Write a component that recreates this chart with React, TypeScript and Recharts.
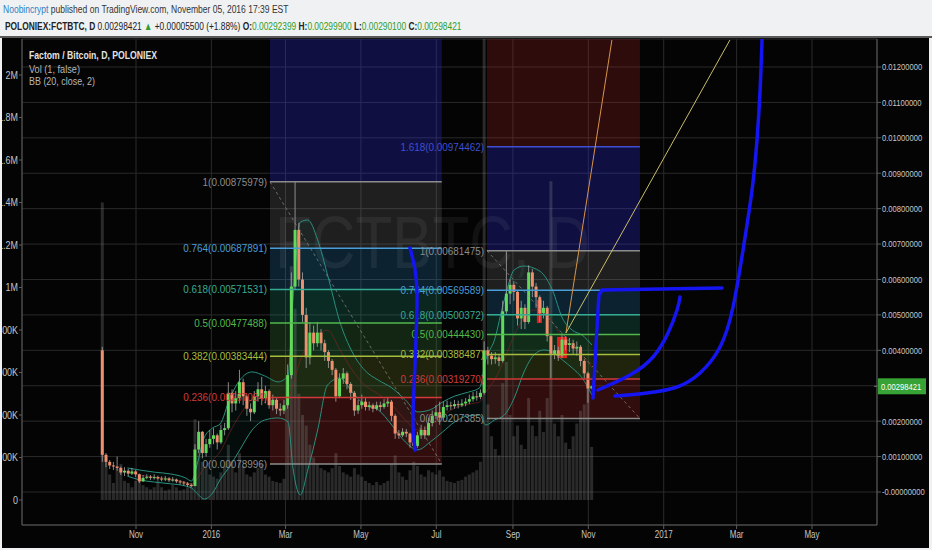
import React from "react";
import {
  ComposedChart,
  Bar,
  Line,
  Area,
  XAxis,
  YAxis,
  CartesianGrid,
  ReferenceArea,
  ReferenceLine,
} from "recharts";

const W = 927;
const H = 510;
const FONT = "'Liberation Sans', Arial, sans-serif";

// x values are days counted from 2015-11-01
const X_DOMAIN = [-92.25, 599.6];
const PRICE_DOMAIN = [-0.000932, 0.01279];
const VOL_DOMAIN = [-117.6, 2169.4]; // thousands

const monthTicks = [0, 61, 121, 182, 243, 305, 366, 427, 486, 547];
const monthLabels = ["Nov", "2016", "Mar", "May", "Jul", "Sep", "Nov", "2017", "Mar", "May"];
const priceTicks = [0, 0.001, 0.002, 0.003, 0.004, 0.005, 0.006, 0.007, 0.008, 0.009, 0.01, 0.011, 0.012];
const volTicks = [0, 200, 400, 600, 800, 1000, 1200, 1400, 1600, 1800, 2000];

// FCT/BTC candles, one every 3rd session from 2015-10-05
const firstDay = -27;
const stepDays = 3;

const opens = [
  0.004, 0.00105, 0.00085, 0.00075, 0.00072, 0.00068, 0.00055, 0.0006, 0.00052, 0.00058,
  0.0005, 0.0003, 0.0004, 0.00043, 0.0004, 0.00042, 0.00038, 0.00036, 0.00038, 0.00033,
  0.00035, 0.0003, 0.00027, 0.00024, 0.0002, 0.00017, 0.0012, 0.0017, 0.0011, 0.00135,
  0.0015, 0.0016, 0.0014, 0.00175, 0.0018, 0.0028, 0.0025, 0.00265, 0.0031, 0.0027,
  0.00235, 0.00225, 0.0027, 0.0029, 0.00265, 0.00285, 0.00245, 0.0026, 0.00235, 0.0023,
  0.00245, 0.0033, 0.0058, 0.0074, 0.006, 0.005, 0.0038, 0.0045, 0.0042, 0.0045,
  0.0042, 0.00395, 0.0037, 0.00345, 0.0027, 0.0032, 0.00335, 0.00305, 0.0028, 0.0023,
  0.00245, 0.00255, 0.0024, 0.00245, 0.00235, 0.00245, 0.0024, 0.0025, 0.00255, 0.00215,
  0.00165, 0.0016, 0.0017, 0.00165, 0.0014, 0.0013, 0.0016, 0.00175, 0.0016, 0.00195,
  0.00215, 0.00225, 0.0021, 0.0024, 0.00245, 0.00242, 0.00248, 0.00245, 0.0025, 0.00255,
  0.00262, 0.0027, 0.00268, 0.0028, 0.004, 0.00385, 0.00375, 0.0038, 0.0037, 0.0051,
  0.0056, 0.00585, 0.00565, 0.0049, 0.0052, 0.0048, 0.0062, 0.0058, 0.0055, 0.00505,
  0.0052, 0.0044, 0.0039, 0.004, 0.00385, 0.0043, 0.00415, 0.0042, 0.00405, 0.0041,
  0.0037, 0.00335, 0.00292399,
];
const highs = [
  0.0041, 0.0011, 0.0009, 0.00085, 0.001, 0.00072, 0.0007, 0.00065, 0.00068, 0.00062,
  0.00052, 0.00048, 0.0005, 0.00048, 0.0005, 0.00046, 0.00044, 0.00045, 0.00042, 0.00042,
  0.00038, 0.00034, 0.00031, 0.00028, 0.00024, 0.00135, 0.002, 0.00172, 0.0015, 0.00175,
  0.0018, 0.00165, 0.0019, 0.00195, 0.0031, 0.0029, 0.00285, 0.00345, 0.0032, 0.00275,
  0.0025, 0.00285, 0.0031, 0.00325, 0.003, 0.0029, 0.00275, 0.00265, 0.0025, 0.0026,
  0.0036, 0.0062, 0.00876, 0.0076, 0.0062, 0.0052, 0.0048, 0.0047, 0.0048, 0.0046,
  0.0043, 0.004, 0.00375, 0.0035, 0.00335, 0.0035, 0.0034, 0.0031, 0.00285, 0.0026,
  0.00275, 0.00265, 0.00255, 0.0025, 0.00255, 0.00255, 0.00262, 0.00268, 0.0026, 0.0022,
  0.00175, 0.0018, 0.00178, 0.00168, 0.0015, 0.0017, 0.0019, 0.00185, 0.0021, 0.0023,
  0.00245, 0.00255, 0.00255, 0.00258, 0.00255, 0.0026, 0.00258, 0.00262, 0.00265, 0.00275,
  0.00282, 0.00285, 0.0029, 0.00425, 0.0041, 0.00395, 0.00395, 0.0039, 0.0054, 0.00681,
  0.006, 0.00595, 0.0057, 0.0054, 0.0053, 0.0064, 0.0063, 0.0059, 0.00555, 0.0054,
  0.00525, 0.00445, 0.00415, 0.0041, 0.00448, 0.0044, 0.00435, 0.0043, 0.00425, 0.00415,
  0.00375, 0.0034, 0.002999,
];
const lows = [
  0.00085, 0.0007, 0.00065, 0.00062, 0.0006, 0.00048, 0.00045, 0.00045, 0.00048, 0.00042,
  0.00025, 0.00028, 0.00036, 0.00034, 0.00035, 0.00032, 0.0003, 0.00031, 0.00028, 0.00029,
  0.00025, 0.00021, 0.00018, 0.00015, 0.00013, 0.00016, 0.0011, 0.00095, 0.001, 0.00125,
  0.00135, 0.0012, 0.00135, 0.0016, 0.00175, 0.00225, 0.0023, 0.0025, 0.00245, 0.00215,
  0.002, 0.0022, 0.00255, 0.00245, 0.0025, 0.00235, 0.0023, 0.0022, 0.00215, 0.0022,
  0.00235, 0.0032, 0.0057, 0.0058, 0.0048, 0.0035, 0.0036, 0.004, 0.0041, 0.004,
  0.0037, 0.0035, 0.0033, 0.00255, 0.00265, 0.00305, 0.0029, 0.0026, 0.00215, 0.0022,
  0.00235, 0.0023, 0.0023, 0.00225, 0.0023, 0.00228, 0.00235, 0.0024, 0.002, 0.0015,
  0.0015, 0.00155, 0.00155, 0.00125, 0.0012, 0.00125, 0.0015, 0.0015, 0.0016, 0.00185,
  0.00205, 0.0019, 0.00205, 0.0023, 0.00232, 0.00235, 0.00236, 0.0024, 0.00242, 0.00248,
  0.00255, 0.00258, 0.00262, 0.00275, 0.0036, 0.0036, 0.00362, 0.00355, 0.00365, 0.005,
  0.0053, 0.0054, 0.0047, 0.0046, 0.0046, 0.00475, 0.0055, 0.0052, 0.0048, 0.0049,
  0.00425, 0.0032, 0.00375, 0.0037, 0.00378, 0.004, 0.00395, 0.0039, 0.00385, 0.00355,
  0.0032, 0.00252, 0.002901,
];
const closes = [
  0.00105, 0.00085, 0.00075, 0.00072, 0.00068, 0.00055, 0.0006, 0.00052, 0.00058, 0.0005,
  0.0003, 0.0004, 0.00043, 0.0004, 0.00042, 0.00038, 0.00036, 0.00038, 0.00033, 0.00035,
  0.0003, 0.00027, 0.00024, 0.0002, 0.00017, 0.0012, 0.0017, 0.0011, 0.00135, 0.0015,
  0.0016, 0.0014, 0.00175, 0.0018, 0.0028, 0.0025, 0.00265, 0.0031, 0.0027, 0.00235,
  0.00225, 0.0027, 0.0029, 0.00265, 0.00285, 0.00245, 0.0026, 0.00235, 0.0023, 0.00245,
  0.0033, 0.0058, 0.0074, 0.006, 0.005, 0.0038, 0.0045, 0.0042, 0.0045, 0.0042,
  0.00395, 0.0037, 0.00345, 0.0027, 0.0032, 0.00335, 0.00305, 0.0028, 0.0023, 0.00245,
  0.00255, 0.0024, 0.00245, 0.00235, 0.00245, 0.0024, 0.0025, 0.00255, 0.00215, 0.00165,
  0.0016, 0.0017, 0.00165, 0.0014, 0.0013, 0.0016, 0.00175, 0.0016, 0.00195, 0.00215,
  0.00225, 0.0021, 0.0024, 0.00245, 0.00242, 0.00248, 0.00245, 0.0025, 0.00255, 0.00262,
  0.0027, 0.00268, 0.0028, 0.004, 0.00385, 0.00375, 0.0038, 0.0037, 0.0051, 0.0056,
  0.00585, 0.00565, 0.0049, 0.0052, 0.0048, 0.0062, 0.0058, 0.0055, 0.00505, 0.0052,
  0.0044, 0.0039, 0.004, 0.00385, 0.0043, 0.00415, 0.0042, 0.00405, 0.0041, 0.0037,
  0.00335, 0.00292399, 0.00298421,
];
// volume in thousands
const volumes = [
  1400, 180, 120, 80, 150, 170, 90, 80, 60, 90,
  110, 70, 60, 50, 60, 90, 60, 45, 50, 70,
  60, 45, 50, 60, 80, 380, 300, 180, 150, 120,
  110, 100, 130, 160, 260, 180, 130, 220, 160, 120,
  110, 130, 150, 170, 120, 110, 90, 85, 80, 100,
  500, 1100, 900, 500, 400, 350, 260, 200, 170, 150,
  140, 130, 150, 220, 160, 130, 120, 110, 150, 120,
  110, 90, 80, 70, 85, 70, 80, 90, 170, 210,
  130, 110, 95, 140, 180, 160, 120, 110, 140, 130,
  120, 140, 110, 90, 85, 80, 90, 95, 110, 120,
  130, 140, 180, 2400, 450, 300, 240, 210, 550, 650,
  400, 300, 350, 260, 240, 480, 350, 300, 420, 320,
  480, 1500, 360, 300, 400, 270, 240, 300, 360, 420,
  450, 540, 250,
];

// Bollinger Bands (20, close, 2)
const bbDays = [
  -7, 3, 15, 28, 40, 45, 50, 55, 62, 68, 76, 84, 94, 104, 115, 123, 127, 133, 139, 147,
  155, 165, 175, 185, 196, 207, 218, 228, 238, 248, 258, 269, 278, 283, 290, 298, 306, 314, 322, 330,
  337, 345, 353, 361, 369,
];
const bbUpper = [
  0.00068, 0.00062, 0.00056, 0.00051, 0.0004, 0.00031, 0.00085, 0.00152, 0.00181, 0.00192,
  0.00265, 0.00316, 0.00339, 0.00328, 0.00311, 0.00328, 0.00542, 0.00762, 0.00768, 0.00712,
  0.00613, 0.0048, 0.00395, 0.00344, 0.00316, 0.00294, 0.0026, 0.00226, 0.00232, 0.00254,
  0.00271, 0.00282, 0.00294, 0.00373, 0.00429, 0.00542, 0.00627, 0.00638, 0.00632, 0.00613,
  0.0057, 0.00491, 0.00457, 0.00443, 0.00415,
];
const bbBasis = [
  0.00056, 0.00048, 0.00042, 0.00037, 0.00028, 0.00023, 0.0004, 0.00068, 0.0009, 0.00113,
  0.00169, 0.00217, 0.0026, 0.00265, 0.0026, 0.00265, 0.00302, 0.00373, 0.00415, 0.00443,
  0.00457, 0.00401, 0.00344, 0.00302, 0.00277, 0.00246, 0.00203, 0.00175, 0.00186, 0.00215,
  0.00237, 0.00248, 0.00254, 0.00282, 0.00316, 0.00373, 0.00443, 0.00491, 0.00514, 0.00508,
  0.0048, 0.00435, 0.00407, 0.00387, 0.0035,
];
const bbLower = [
  0.00045, 0.00034, 0.00028, 0.00023, 0.00017, 0.00011, -0.00006, -0.0002, -0.00003, 0.00034,
  0.00073, 0.00119, 0.00175, 0.00203, 0.00209, 0.00198, 0.00068, -0.00008, 0.00062, 0.00175,
  0.00302, 0.00322, 0.00282, 0.00246, 0.00232, 0.00189, 0.00141, 0.00119, 0.00141, 0.00169,
  0.00198, 0.00215, 0.00217, 0.00189, 0.00203, 0.00217, 0.00265, 0.00339, 0.00387, 0.00401,
  0.00395, 0.00373, 0.0035, 0.00322, 0.00274,
];

// Fibonacci retracements
const fibLeftFrom = 108.4;
const fibLeftTo = 247.4;
const fibLeftLevels = ["1.618", "1", "0.764", "0.618", "0.5", "0.382", "0.236", "0"];
const fibLeftPrices = [0.01368514, 0.00875979, 0.00687891, 0.00571531, 0.00477488, 0.00383444, 0.00267084, 0.00078996];

const fibRightFrom = 284.0;
const fibRightTo = 407.8;
const fibRightLevels = ["2.618", "1.618", "1", "0.764", "0.618", "0.5", "0.382", "0.236", "0"];
const fibRightPrices = [0.01448553, 0.00974462, 0.00681475, 0.00569589, 0.00500372, 0.0044443, 0.00388487, 0.0031927, 0.00207385];

// hand drawn marks, [day, price]
const juneStroke = [
  [221.7, 0.006889], [225.8, 0.006268], [227.4, 0.005506], [226.6, 0.004376],
  [225.0, 0.002965], [224.1, 0.001948], [225.8, 0.001186],
];
const cornerStroke = [
  [369.8, 0.002654], [372.2, 0.004151], [374.6, 0.005562], [377.1, 0.005703],
  [424.0, 0.005732], [474.2, 0.00576],
];
const arcStroke = [
  [373.8, 0.00288], [399.7, 0.003303], [418.4, 0.003812], [430.5, 0.004489],
  [437.8, 0.005139], [440.2, 0.005506],
];
const rocketStroke = [
  [387.6, 0.002711], [413.5, 0.002795], [437.8, 0.002965], [456.4, 0.00336],
  [472.6, 0.004094], [483.1, 0.005223], [491.2, 0.006833], [498.5, 0.008527],
  [502.5, 0.009939], [505.0, 0.01135], [506.6, 0.012762], [507.4, 0.0133],
];
const fanOrigin = [347.9, 0.004489];
const fanEnds = [[385.1, 0.012762], [480.6, 0.012762]];
const fanColors = ["#d8944a", "#c9bd6a"];
const highlightBoxes = [
  [324.4, 328.5, 0.00477, 0.00542],
  [340.7, 348.8, 0.00378, 0.00438],
];

const levelColor: Record<string, string> = {
  "2.618": "#d03a3a",
  "1.618": "#3f4fd2",
  "1": "#8c8c8c",
  "0.764": "#4a9ed8",
  "0.618": "#36ab93",
  "0.5": "#52b84c",
  "0.382": "#a6bd3e",
  "0.236": "#d03a3a",
  "0": "#8c8c8c",
};
const bandFill: Record<string, [string, number]> = {
  "2.618": ["#c42a2a", 0.22],
  "1.618": ["#2a2ad2", 0.3],
  "1": ["#8a8a8a", 0.2],
  "0.764": ["#2f8fd0", 0.22],
  "0.618": ["#2aa88a", 0.2],
  "0.5": ["#4caf50", 0.2],
  "0.382": ["#9fb83a", 0.18],
  "0.236": ["#c42a2a", 0.24],
};

const candleRows = closes.map((close, i) => ({
  day: firstDay + i * stepDays,
  open: opens[i],
  high: highs[i],
  low: lows[i],
  close,
  range: [lows[i], highs[i]],
  vol: volumes[i],
}));

const bbRows = bbDays.map((day, i) => ({
  day,
  upper: bbUpper[i],
  basis: bbBasis[i],
  lower: bbLower[i],
  band: [bbLower[i], bbUpper[i]],
}));

const toRows = (pts: number[][]) => pts.map(([day, price]) => ({ day, price }));

const last = candleRows[candleRows.length - 1];

const fmtPrice = (v: number) => (v === 0 ? "-0.00000000" : v.toFixed(8));
const fmtVol = (v: number) => (v === 0 ? "0" : v >= 1000 ? `${v / 1000}M` : `${v}K`);
const fmtMonth = (v: number) => monthLabels[monthTicks.indexOf(v)] ?? "";

const UP = "#62d95a";
const DOWN = "#ee8f6d";

// condensed text: regular face squeezed horizontally
function NarrowText({ x, y, anchor, text, fill, dy, size = 9.5, squeeze = 0.8 }: any) {
  return (
    <text
      transform={`translate(${x},${y}) scale(${squeeze},1)`}
      textAnchor={anchor}
      dy={dy}
      fill={fill}
      fontSize={size}
      fontFamily={FONT}
    >
      {text}
    </text>
  );
}

function Candle(props: any) {
  const { x, y, width, height, payload } = props;
  if (x == null || y == null) return null;
  const top = Math.min(y, y + height);
  const h = Math.abs(height);
  const { open, close, high, low } = payload;
  const span = high - low || 1e-9;
  const py = (v: number) => top + ((high - v) / span) * h;
  const up = close >= open;
  const bodyTop = py(Math.max(open, close));
  const bodyBot = py(Math.min(open, close));
  const cx = x + width / 2;
  return (
    <g>
      <line x1={cx} x2={cx} y1={top} y2={top + h} stroke="#a8a8a8" strokeOpacity={0.8} strokeWidth={1} />
      <rect x={x} y={bodyTop} width={width} height={Math.max(1, bodyBot - bodyTop)} fill={up ? UP : DOWN} />
    </g>
  );
}

function PriceMarker(props: any) {
  const { x, y, payload } = props;
  return (
    <g>
      <line x1={x - 3} x2={x} y1={y} y2={y} stroke="#777" />
      <rect x={x + 1} y={y - 8} width={48} height={16} fill="#37a337" />
      <NarrowText x={x + 4} y={y} anchor="start" dy="0.355em" fill="#ffffff" text={payload.value.toFixed(8)} />
    </g>
  );
}

function FibLabel(props: any) {
  const { viewBox, text, color } = props;
  if (!viewBox) return null;
  const y = viewBox.y + (viewBox.height || 0) / 2;
  return <NarrowText x={viewBox.x - 3} y={y} anchor="end" dy="0.355em" fill={color} size={11} squeeze={0.9} text={text} />;
}

const hiddenMargin = { top: 1, right: 52, bottom: 23, left: 20 };
const layer: React.CSSProperties = { position: "absolute", left: 0, top: 0 };

function fibBands(from: number, to: number, levels: string[], prices: number[]) {
  return levels.slice(0, -1).map((lvl, i) => (
    <ReferenceArea
      key={`band-${from}-${lvl}`}
      yAxisId="price"
      x1={from}
      x2={to}
      y1={prices[i + 1]}
      y2={prices[i]}
      fill={bandFill[lvl][0]}
      fillOpacity={bandFill[lvl][1]}
      stroke="none"
      ifOverflow="hidden"
    />
  ));
}

function fibLines(from: number, to: number, levels: string[], prices: number[]) {
  return levels.map((lvl, i) => (
    <ReferenceLine
      key={`lvl-${from}-${lvl}`}
      yAxisId="price"
      segment={[{ x: from, y: prices[i] }, { x: to, y: prices[i] }]}
      stroke={levelColor[lvl]}
      strokeWidth={1.5}
      ifOverflow="hidden"
      label={<FibLabel text={`${lvl}(${prices[i].toFixed(8)})`} color={levelColor[lvl]} />}
    />
  ));
}

export default function App() {
  const green = "#2e9e2e";
  return (
    <div style={{ position: "absolute", left: 0, top: 0, width: 932, height: 550, background: "#eff1f3", overflow: "hidden" }}>
      <svg style={layer} width={932} height={36}>
        <g transform="translate(3,13) scale(0.776,1)">
          <text x={0} y={0} fontSize={11} fontFamily={FONT} fill="#333">
            <tspan fill="#2f7fc4">Noobincrypt</tspan>
            <tspan> published on TradingView.com, November 05, 2016 17:39 EST</tspan>
          </text>
        </g>
        <g transform="translate(5,29.5) scale(0.762,1)">
          <text x={0} y={0} fontSize={11} fontFamily={FONT} fill="#222">
            <tspan fontWeight="bold">POLONIEX:FCTBTC, D</tspan>
            <tspan>{` ${last.close.toFixed(8)} `}</tspan>
            <tspan fill={green}>▲</tspan>
            <tspan>{" +0.00005500 (+1.88%) "}</tspan>
            <tspan fontWeight="bold">O:</tspan>
            <tspan fill={green}>{`${last.open.toFixed(8)} `}</tspan>
            <tspan fontWeight="bold">H:</tspan>
            <tspan fill={green}>{`${last.high.toFixed(8)} `}</tspan>
            <tspan fontWeight="bold">L:</tspan>
            <tspan fill={green}>{`${last.low.toFixed(8)} `}</tspan>
            <tspan fontWeight="bold">C:</tspan>
            <tspan fill={green}>{last.close.toFixed(8)}</tspan>
          </text>
        </g>
      </svg>
      <div style={{ position: "absolute", left: 0, top: 36, width: 932, height: 2, background: "#5a5a5a" }} />

      <div style={{ position: "absolute", left: 2, top: 38, width: W, height: H, background: "#040404", overflow: "hidden" }}>
        {/* grid, axes, fib zones, volume */}
        <div style={layer}>
          <ComposedChart width={W} height={H} data={candleRows} margin={{ top: 1, right: 0, bottom: 0, left: 0 }}>
            <CartesianGrid stroke="#2a2a2a" yAxisId="price" />
            <XAxis
              type="number"
              dataKey="day"
              domain={X_DOMAIN}
              allowDataOverflow
              ticks={monthTicks}
              interval={0}
              height={23}
              stroke="#5c5c5c"
              tickSize={4}
              tick={(p: any) => <NarrowText x={p.x} y={p.y} anchor="middle" dy="0.71em" fill="#c4c4c4" size={10} text={fmtMonth(p.payload.value)} />}
            />
            <YAxis
              yAxisId="vol"
              orientation="left"
              width={20}
              domain={VOL_DOMAIN}
              allowDataOverflow
              ticks={volTicks}
              interval={0}
              stroke="#5c5c5c"
              tickSize={3}
              tickMargin={1}
              tick={(p: any) => <NarrowText x={p.x} y={p.y} anchor="end" dy="0.355em" fill="#c4c4c4" size={10.5} squeeze={0.85} text={fmtVol(p.payload.value)} />}
            />
            <YAxis
              yAxisId="price"
              orientation="right"
              width={52}
              domain={PRICE_DOMAIN}
              allowDataOverflow
              ticks={priceTicks}
              interval={0}
              stroke="#5c5c5c"
              tickSize={4}
              tickMargin={1}
              tick={(p: any) => <NarrowText x={p.x} y={p.y} anchor="start" dy="0.355em" fill="#c8c8c8" text={fmtPrice(p.payload.value)} />}
            />
            {fibBands(fibLeftFrom, fibLeftTo, fibLeftLevels, fibLeftPrices)}
            {fibBands(fibRightFrom, fibRightTo, fibRightLevels, fibRightPrices)}
            <Bar yAxisId="vol" dataKey="vol" barSize={3} fill="#8e8e8e" fillOpacity={0.28} isAnimationActive={false} />
          </ComposedChart>
        </div>

        <svg style={{ ...layer, pointerEvents: "none" }} width={W} height={H}>
          <text x={273} y={230} fontSize={74} fontFamily={FONT} fill="#ffffff" fillOpacity={0.06} textLength={315} lengthAdjust="spacingAndGlyphs">
            FCTBTC, D
          </text>
        </svg>

        {/* Bollinger Bands */}
        <div style={layer}>
          <ComposedChart width={W} height={H} data={bbRows} margin={hiddenMargin}>
            <XAxis type="number" dataKey="day" domain={X_DOMAIN} allowDataOverflow hide />
            <YAxis yAxisId="price" domain={PRICE_DOMAIN} allowDataOverflow hide />
            <Area yAxisId="price" dataKey="band" type="monotone" stroke="none" fill="#0f7a66" fillOpacity={0.08} isAnimationActive={false} />
            <Line yAxisId="price" dataKey="basis" type="monotone" stroke="#872323" strokeOpacity={0.6} strokeWidth={1} dot={false} isAnimationActive={false} />
            <Line yAxisId="price" dataKey="upper" type="monotone" stroke="#2a8f7e" strokeWidth={1} dot={false} isAnimationActive={false} />
            <Line yAxisId="price" dataKey="lower" type="monotone" stroke="#2a8f7e" strokeWidth={1} dot={false} isAnimationActive={false} />
          </ComposedChart>
        </div>

        {/* candles */}
        <div style={layer}>
          <ComposedChart width={W} height={H} data={candleRows} margin={hiddenMargin}>
            <XAxis type="number" dataKey="day" domain={X_DOMAIN} allowDataOverflow hide />
            <YAxis yAxisId="price" domain={PRICE_DOMAIN} allowDataOverflow hide />
            <Bar yAxisId="price" dataKey="range" barSize={3} shape={(p: any) => <Candle {...p} />} isAnimationActive={false} />
            {highlightBoxes.map(([x1, x2, y1, y2], i) => (
              <ReferenceArea key={i} yAxisId="price" x1={x1} x2={x2} y1={y1} y2={y2} fill="#ff2020" fillOpacity={0.85} stroke="none" ifOverflow="hidden" />
            ))}
          </ComposedChart>
        </div>

        {/* fib levels, trend lines and hand drawn marks */}
        <div style={layer}>
          <ComposedChart width={W} height={H} margin={{ top: 1, right: 0, bottom: 23, left: 20 }}>
            <XAxis type="number" dataKey="day" domain={X_DOMAIN} allowDataOverflow hide />
            <YAxis
              yAxisId="price"
              orientation="right"
              width={52}
              domain={PRICE_DOMAIN}
              allowDataOverflow
              ticks={[last.close]}
              interval={0}
              axisLine={false}
              tickLine={false}
              tickSize={0}
              tickMargin={0}
              tick={(p: any) => <PriceMarker {...p} />}
            />
            <ReferenceLine
              yAxisId="price"
              segment={[{ x: fibLeftFrom, y: fibLeftPrices[1] }, { x: fibLeftTo, y: fibLeftPrices[fibLeftPrices.length - 1] }]}
              stroke="#8c8c8c"
              strokeOpacity={0.7}
              strokeDasharray="3 3"
              ifOverflow="hidden"
            />
            <ReferenceLine
              yAxisId="price"
              segment={[{ x: fibRightFrom, y: fibRightPrices[2] }, { x: fibRightTo, y: fibRightPrices[fibRightPrices.length - 1] }]}
              stroke="#8c8c8c"
              strokeOpacity={0.7}
              strokeDasharray="3 3"
              ifOverflow="hidden"
            />
            {fibLines(fibLeftFrom, fibLeftTo, fibLeftLevels.slice(1), fibLeftPrices.slice(1))}
            {fibLines(fibRightFrom, fibRightTo, fibRightLevels.slice(1), fibRightPrices.slice(1))}
            {fanEnds.map(([d, p], i) => (
              <ReferenceLine
                key={`fan-${i}`}
                yAxisId="price"
                segment={[{ x: fanOrigin[0], y: fanOrigin[1] }, { x: d, y: p }]}
                stroke={fanColors[i]}
                strokeWidth={1}
                ifOverflow="hidden"
              />
            ))}
            {[juneStroke, cornerStroke, arcStroke, rocketStroke].map((pts, k) => (
              <Line
                key={`stroke-${k}`}
                yAxisId="price"
                data={toRows(pts)}
                dataKey="price"
                type={k === 1 ? "linear" : "natural"}
                stroke="#1515f2"
                strokeWidth={3.5}
                strokeLinecap="round"
                strokeLinejoin="round"
                dot={false}
                isAnimationActive={false}
              />
            ))}
          </ComposedChart>
        </div>

        <svg style={{ ...layer, pointerEvents: "none" }} width={W} height={60}>
          <text x={27} y={21} fontSize={11.5} fontWeight="bold" fontFamily={FONT} fill="#e2e2e2" textLength={128} lengthAdjust="spacingAndGlyphs">
            Factom / Bitcoin, D, POLONIEX
          </text>
          <text x={27} y={35} fontSize={11} fontFamily={FONT} fill="#b8b8b8" textLength={51} lengthAdjust="spacingAndGlyphs">
            Vol (1, false)
          </text>
          <text x={27} y={47} fontSize={11} fontFamily={FONT} fill="#b8b8b8" textLength={66} lengthAdjust="spacingAndGlyphs">
            BB (20, close, 2)
          </text>
        </svg>
      </div>
    </div>
  );
}
